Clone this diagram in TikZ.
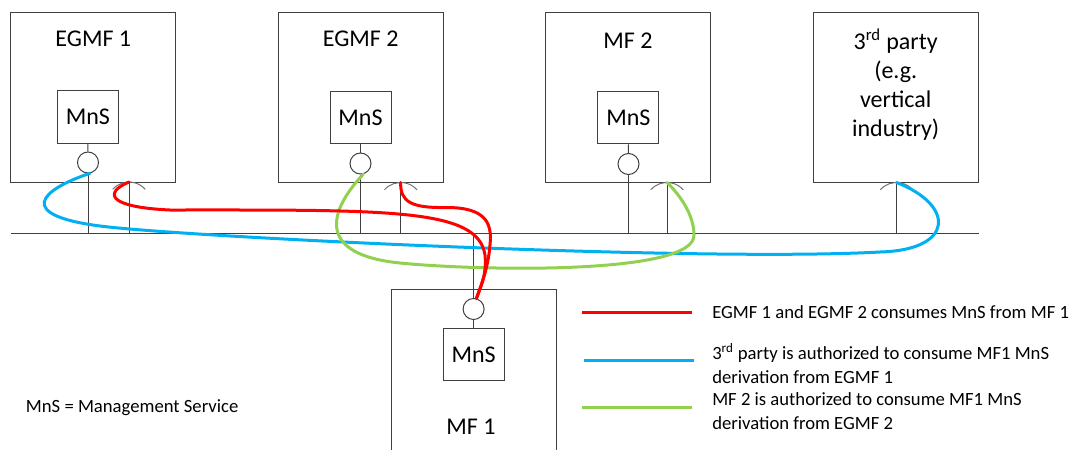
\documentclass[tikz,border=0pt]{standalone}
\usepackage{fontspec}
\setmainfont{Carlito}
\usetikzlibrary{positioning}

\definecolor{flowred}{RGB}{255,0,0}
\definecolor{flowblue}{RGB}{0,176,240}
\definecolor{flowgreen}{RGB}{146,208,80}

\tikzstyle{mfbox} = [draw=black!75, line width=0.75pt, minimum width=123.75pt, minimum height=127.5pt, inner sep=0pt]
\tikzstyle{mnsbox} = [draw=black!75, line width=0.75pt, minimum width=45.75pt, minimum height=39.4pt, inner sep=0pt, font=\fontsize{18}{22}\selectfont]
\tikzstyle{port} = [circle, draw=black!75, line width=0.75pt, minimum size=15.75pt, inner sep=0pt]
\tikzstyle{title} = [font=\fontsize{18}{21.75}\selectfont, align=center, inner sep=0pt]
\tikzstyle{note} = [font=\fontsize{14}{17.5}\selectfont, align=left, anchor=west, inner sep=0pt]
\tikzstyle{wire} = [black!75, line width=0.75pt]
\tikzstyle{socket} = [black!55, line width=0.75pt]
\tikzstyle{flow} = [line width=2.25pt, line cap=round]
\tikzstyle{swatch} = [line width=2.25pt]

\begin{document}
\begin{tikzpicture}[x=0.75pt, y=-0.75pt]
\useasboundingbox (0,0) rectangle (1076,450);
\clip (0,0) rectangle (1076,450);

% functions
\node[mfbox] (egmf1) at (93.3,97.2) {};
\node[mfbox] (egmf2) at (360.7,97.4) {};
\node[mfbox] (mf2) at (627.9,97.4) {};
\node[mfbox] (party) at (895.7,97.4) {};
\node[mfbox, minimum height=150pt] (mf1) at (473.5,389) {};
\node[title] (egmf1t) at (93.3,39) {EGMF 1};
\node[title] (egmf2t) at (360.7,39) {EGMF 2};
\node[title] (mf2t) at (628,40.7) {MF 2};
\node[title] (partyt) at (895.7,84.5) {3\textsuperscript{rd} party\\(e.g.\\vertical\\industry)};
\node[title] (mf1t) at (471,426.7) {MF 1};

% services and ports
\node[mnsbox] (mns1) at (87.9,117.2) {MnS};
\node[mnsbox] (mns2) at (360.5,117.5) {MnS};
\node[mnsbox] (mns3) at (628.4,117.6) {MnS};
\node[mnsbox] (mns4) at (473.6,354.7) {MnS};
\node[port] (p1) at (88,162.5) {};
\node[port] (p2) at (360.5,163.5) {};
\node[port] (p3) at (628.5,164) {};
\node[port] (p4) at (473.6,309) {};
\coordinate (s1) at (129,182);
\coordinate (s2) at (400.7,182.5);
\coordinate (s3) at (667,182.5);
\coordinate (s4) at (896.5,182.5);

% bus
\coordinate (busl) at (11.3,233.3);
\coordinate (busr) at (979,233.3);
\draw[wire] (busl) -- (busr);
\draw[wire] (mns1.south) -- (p1.north);
\draw[wire] (mns2.south) -- (p2.north);
\draw[wire] (mns3.south) -- (p3.north);
\draw[wire] (p4.south) -- (mns4.north);
\draw[wire] (p1.south) -- (p1.south |- busl);
\draw[wire] (p2.south) -- (p2.south |- busl);
\draw[wire] (p3.south) -- (p3.south |- busl);
\draw[wire] (p4.north |- busl) -- (p4.north);
\foreach \s in {s1,s2,s3,s4} {
  \draw[wire] (\s) -- (\s |- busl);
  \draw[socket] (\s) ++(0,21.8) ++(221.6:21.8) arc[start angle=221.6, end angle=318.4, radius=21.8];
}

% flows
\draw[flow, flowblue] (p1.-80) .. controls (40,190) and (15,215) .. (100,226)
  .. controls (185,237) and (700,262) .. (880,252)
  .. controls (955,250) and (955,205) .. (s4);
\draw[flow, flowgreen] (p2.-75) .. controls (325,215) and (320,255) .. (400,263)
  .. controls (480,271) and (695,275) .. (694,235)
  .. controls (694,215) and (680,195) .. (s3);
\draw[flow, flowred] (s1) .. controls (105,192) and (105,207) .. (170,210)
  .. controls (390,210) and (478,208) .. (485,255)
  .. controls (487,275) and (480,288) .. (p4.75);
\draw[flow, flowred] (s2) .. controls (400,202) and (412,208) .. (445,207.5)
  .. controls (488,207) and (492,225) .. (490,245)
  .. controls (488,270) and (480,288) .. (p4.75);

% legend
\coordinate (kred) at (582,312.3);
\coordinate (kblue) at (584,360);
\coordinate (kgreen) at (582,407.3);
\draw[swatch, flowred] (kred) -- ++(110,0);
\draw[swatch, flowblue] (kblue) -- ++(110,0);
\draw[swatch, flowgreen] (kgreen) -- ++(110,0);
\node[note] (lred) at (712,312.3) {EGMF 1 and EGMF 2 consumes MnS from MF 1};
\node[note] (lblue) at (712,363.4) {3\textsuperscript{rd} party is authorized to consume MF1 MnS\\derivation from EGMF 1};
\node[note] (lgreen) at (712,411) {MF 2 is authorized to consume MF1 MnS\\derivation from EGMF 2};
\node[note] (abbr) at (25.7,407.7) {MnS = Management Service};
\end{tikzpicture}
\end{document}
